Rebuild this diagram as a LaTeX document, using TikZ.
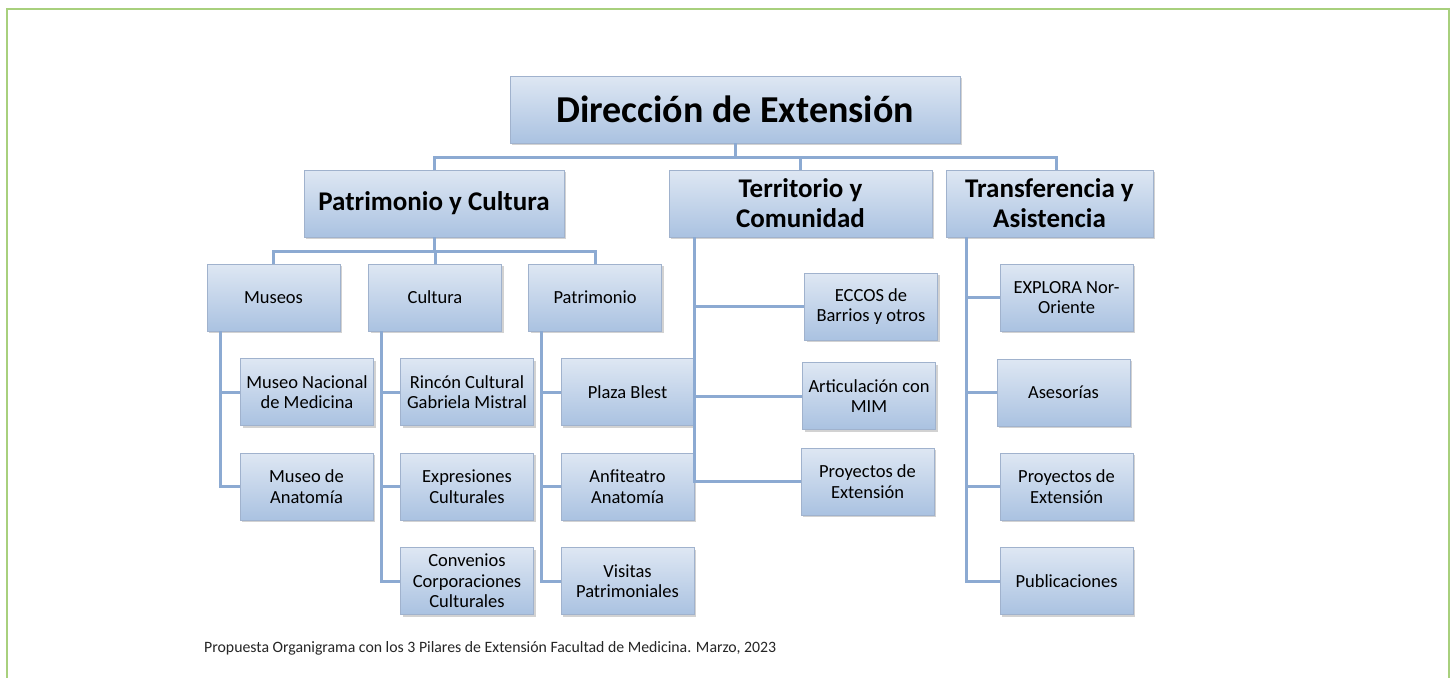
\documentclass[tikz,border=0pt]{standalone}
\usepackage{fontspec}
\setmainfont{Carlito}
\usetikzlibrary{shadows}
\definecolor{boxtop}{RGB}{222,231,243}
\definecolor{boxbot}{RGB}{170,194,225}
\definecolor{boxline}{RGB}{160,178,205}
\definecolor{conn}{RGB}{140,170,210}
\definecolor{framegreen}{RGB}{168,208,125}
\tikzset{
  box/.style={draw=boxline, line width=0.8pt, top color=boxtop, bottom color=boxbot,
    align=center, inner sep=2pt, text=black,
    drop shadow={shadow xshift=2pt, shadow yshift=-2pt, opacity=0.35, fill=gray}},
  titlebox/.style={box, minimum width=450pt, minimum height=67pt,
    font=\fontsize{38}{42}\selectfont\bfseries},
  pillar/.style={box, minimum height=67pt,
    font=\fontsize{27}{30}\selectfont\bfseries},
  unit/.style={box, minimum width=133pt, minimum height=67pt,
    font=\fontsize{18.5}{20.5}\selectfont},
  link/.style={draw=conn, line width=3pt},
  caption/.style={font=\fontsize{15.8}{18}\selectfont, text=black!85, anchor=west, inner sep=0pt}
}
\begin{document}
\begin{tikzpicture}[x=1pt,y=-1pt]
\useasboundingbox (0,0) rectangle (1453,677);
\fill[white] (0,0) rectangle (1453,677);
% frame
\draw[framegreen, line width=2pt] (7,678) -- (7,9) -- (1449,9) -- (1449,678);

% nodes
\node[titlebox] (top) at (735,109.5) {Dirección de Extensión};
\node[pillar, minimum width=260pt] (pyc) at (434,203.5) {Patrimonio y Cultura};
\node[pillar, minimum width=263pt] (tyc) at (800.5,203.5) {Territorio y\\Comunidad};
\node[pillar, minimum width=207pt] (tya) at (1049.5,203.5) {Transferencia y\\Asistencia};

\node[unit] (museos) at (273.5,297.5) {Museos};
\node[unit] (cultura) at (435,297.5) {Cultura};
\node[unit] (patri) at (595,297.5) {Patrimonio};

\node[unit] (mnm) at (307,392) {Museo Nacional\\de Medicina};
\node[unit] (man) at (306.5,486.5) {Museo de\\Anatomía};

\node[unit] (rcgm) at (467,392) {Rincón Cultural\\Gabriela Mistral};
\node[unit] (expc) at (467,486.5) {Expresiones\\Culturales};
\node[unit] (conv) at (467,581) {Convenios\\Corporaciones\\Culturales};

\node[unit] (plaza) at (627.5,392) {Plaza Blest};
\node[unit] (anfi) at (627.5,486.5) {Anfiteatro\\Anatomía};
\node[unit] (visit) at (627.5,581) {Visitas\\Patrimoniales};

\node[unit] (eccos) at (871,306.5) {ECCOS de\\Barrios y otros};
\node[unit] (artic) at (869,396) {Articulación con\\MIM};
\node[unit] (proyt) at (867.5,481.5) {Proyectos de\\Extensión};

\node[unit] (explora) at (1066.5,297.5) {EXPLORA Nor-\\Oriente};
\node[unit] (ases) at (1063.5,392.5) {Asesorías};
\node[unit] (proya) at (1066.5,486.5) {Proyectos de\\Extensión};
\node[unit] (publ) at (1066.5,581) {Publicaciones};

\node[caption] (cap) at (204,648) {Propuesta Organigrama con los 3 Pilares de Extensión Facultad de Medicina. Marzo, 2023};

% connectors
\coordinate (bus1) at (735,157);
\coordinate (tyctop) at (800,170);
\coordinate (tyatop) at (1056,170);
\draw[link] (top.south) -- (bus1);
\draw[link] (bus1) -| (pyc.north);
\draw[link] (bus1) -| (tyctop);
\draw[link] (bus1) -| (tyatop);

\coordinate (bus2) at (434,251);
\draw[link] (pyc.south) -- (bus2);
\draw[link] (bus2) -| (museos.north);
\draw[link] (bus2) -| (cultura.north);
\draw[link] (bus2) -| (patri.north);

\coordinate (msp) at ([xshift=14pt]museos.south west);
\draw[link] (msp) |- (mnm.west);
\draw[link] (msp) |- (man.west);

\coordinate (csp) at ([xshift=13pt]cultura.south west);
\draw[link] (csp) |- (rcgm.west);
\draw[link] (csp) |- (expc.west);
\draw[link] (csp) |- (conv.west);

\coordinate (psp) at ([xshift=13pt]patri.south west);
\draw[link] (psp) |- (plaza.west);
\draw[link] (psp) |- (anfi.west);
\draw[link] (psp) |- (visit.west);

\coordinate (tsp) at ([xshift=26pt]tyc.south west);
\draw[link] (tsp) |- (eccos.west);
\draw[link] (tsp) |- (artic.west);
\draw[link] (tsp) |- (proyt.west);

\coordinate (asp) at ([xshift=21pt]tya.south west);
\draw[link] (asp) |- (explora.west);
\draw[link] (asp) |- (ases.west);
\draw[link] (asp) |- (proya.west);
\draw[link] (asp) |- (publ.west);
\end{tikzpicture}
\end{document}
